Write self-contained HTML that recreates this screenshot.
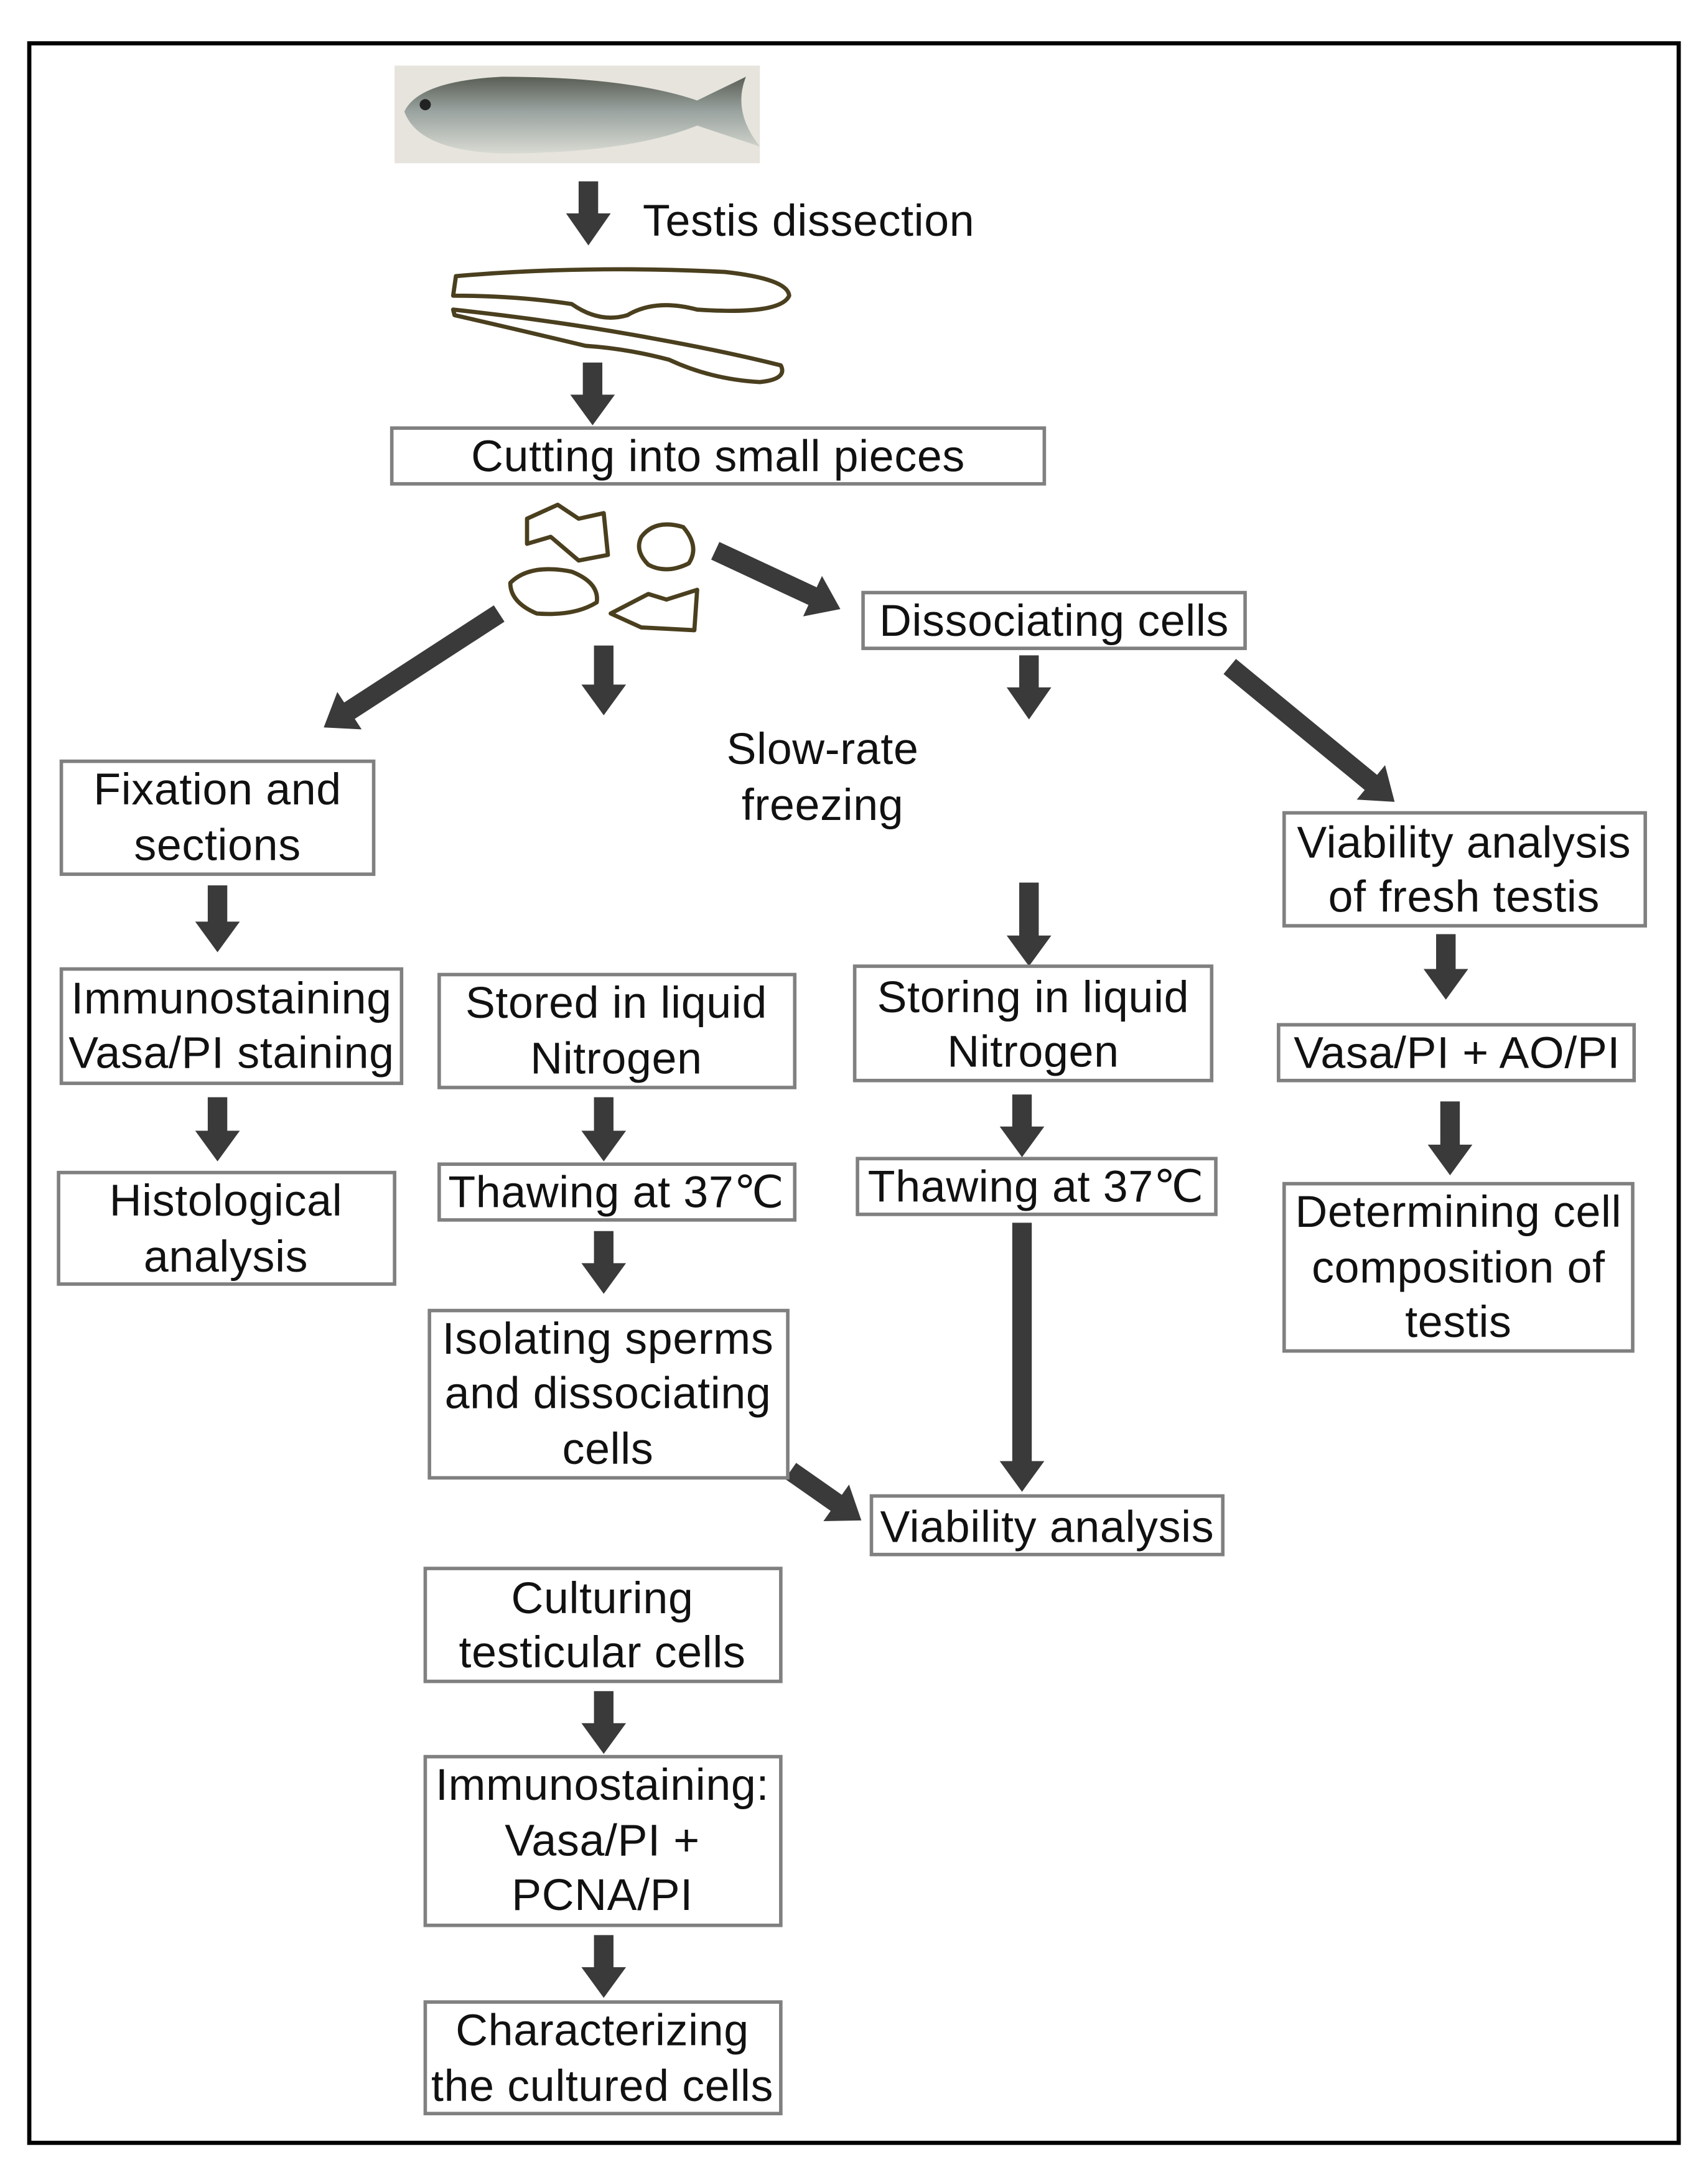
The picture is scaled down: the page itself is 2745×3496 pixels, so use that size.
<!DOCTYPE html>
<html><head><meta charset="utf-8"><style>
html,body{margin:0;padding:0;background:#fff;}
svg{display:block;}
text{font-family:"Liberation Sans",Arial,sans-serif;font-size:32px;letter-spacing:0.3px;fill:#111;text-anchor:middle;}
.b{fill:#fff;stroke:#808080;stroke-width:2.5;}
.a{fill:#3a3a3a;}
.o{fill:none;stroke:#4a3f1e;stroke-width:3;stroke-linejoin:round;}
</style></head><body>
<svg width="2745" height="3496" viewBox="0 0 1225 1560" xmlns="http://www.w3.org/2000/svg">
<defs>
<linearGradient id="fg" x1="0" y1="0" x2="0" y2="1">
<stop offset="0" stop-color="#5a5f55"/><stop offset="0.45" stop-color="#9aa3a0"/><stop offset="1" stop-color="#d8dad2"/>
</linearGradient>
</defs>
<rect x="0" y="0" width="1225" height="1560" fill="#fff"/>
<rect x="21" y="31" width="1183" height="1506" fill="none" stroke="#000" stroke-width="3"/>
<rect x="283" y="47" width="262" height="70" fill="#e6e4dc"/>
<path d="M290,80 Q300,58 360,55 Q450,55 500,72 L535,55 Q525,80 545,105 L500,90 Q450,110 360,110 Q300,108 290,80 Z" fill="url(#fg)"/>
<circle cx="305" cy="75" r="4" fill="#222"/>
<g class="a">
<polygon points="415,130 429,130 429,153 438,153 422,176 406,153 415,153"/>
<polygon points="418,260 432,260 432,283 441,283 425,305 409,283 418,283"/>
<polygon points="426,463 440,463 440,491 449,491 433,513 417,491 426,491"/>
<polygon points="731,470 745,470 745,493 754,493 738,516 722,493 731,493"/>
<polygon points="149,635 163,635 163,661 172,661 156,683 140,661 149,661"/>
<polygon points="149,787 163,787 163,811 172,811 156,833 140,811 149,811"/>
<polygon points="426,787 440,787 440,811 449,811 433,833 417,811 426,811"/>
<polygon points="426,883 440,883 440,906 449,906 433,928 417,906 426,906"/>
<polygon points="731,633 745,633 745,671 754,671 738,693 722,671 731,671"/>
<polygon points="726,785 740,785 740,808 749,808 733,830 717,808 726,808"/>
<polygon points="726,877 740,877 740,1048 749,1048 733,1070 717,1048 726,1048"/>
<polygon points="1030,670 1044,670 1044,695 1053,695 1037,717 1021,695 1030,695"/>
<polygon points="1033,790 1047,790 1047,821 1056,821 1040,843 1024,821 1033,821"/>
<polygon points="426,1213 440,1213 440,1236 449,1236 433,1258 417,1236 426,1236"/>
<polygon points="426,1388 440,1388 440,1411 449,1411 433,1433 417,1411 426,1411"/>
<g transform="translate(358,440) rotate(57)"><polygon points="-7,0 7,0 7,128 16,128 0,150 -16,128 -7,128"/></g>
<g transform="translate(513,395) rotate(-65)"><polygon points="-7,0 7,0 7,77 16,77 0,99 -16,77 -7,77"/></g>
<g transform="translate(882,478) rotate(-50.6)"><polygon points="-7,0 7,0 7,131 16,131 0,153 -16,131 -7,131"/></g>
<g transform="translate(567,1055) rotate(-55)"><polygon points="-7,0 7,0 7,40 16,40 0,62 -16,40 -7,40"/></g>
</g>
<text x="580" y="169" style="font-size:32px">Testis dissection</text>
<path class="o" d="M327,198 Q420,190 520,195 Q565,200 566,212 Q560,226 500,222 Q470,214 450,226 Q430,232 410,218 Q370,212 325,212 Z"/>
<path class="o" d="M325,222 Q400,230 470,243 Q520,252 560,262 Q565,272 545,274 Q510,272 480,258 Q450,250 420,248 Q370,236 326,226 Z"/>
<path class="o" d="M378,372 L400,362 L415,372 L433,368 L436,398 L415,402 L395,385 L378,390 Z"/>
<path class="o" d="M460,385 Q470,372 490,378 Q502,392 494,404 Q478,412 465,405 Q455,395 460,385 Z"/>
<path class="o" d="M366,418 Q380,404 410,410 Q430,418 428,432 Q412,442 385,440 Q366,432 366,418 Z"/>
<path class="o" d="M438,440 L465,426 L478,430 L500,423 L498,452 L460,450 Z"/>
<rect class="b" x="281" y="307" width="468" height="40"/><text x="515" y="338">Cutting into small pieces</text>
<rect class="b" x="619" y="425" width="274" height="40"/><text x="756" y="456">Dissociating cells</text>
<text x="590" y="548">Slow-rate</text><text x="590" y="588">freezing</text>
<rect class="b" x="44" y="546" width="224" height="81"/><text x="156" y="577">Fixation and</text><text x="156" y="617">sections</text>
<rect class="b" x="44" y="695" width="244" height="82"/><text x="166" y="727">Immunostaining</text><text x="166" y="766">Vasa/PI staining</text>
<rect class="b" x="42" y="841" width="241" height="80"/><text x="162" y="872">Histological</text><text x="162" y="912">analysis</text>
<rect class="b" x="315" y="699" width="255" height="81"/><text x="442" y="730">Stored in liquid</text><text x="442" y="770">Nitrogen</text>
<rect class="b" x="315" y="835" width="255" height="40"/><text x="442" y="866">Thawing at 37℃</text>
<rect class="b" x="308" y="940" width="257" height="120"/><text x="436" y="971">Isolating sperms</text><text x="436" y="1010">and dissociating</text><text x="436" y="1050">cells</text>
<rect class="b" x="625" y="1073" width="252" height="42"/><text x="751" y="1106">Viability analysis</text>
<rect class="b" x="613" y="693" width="256" height="82"/><text x="741" y="726">Storing in liquid</text><text x="741" y="765">Nitrogen</text>
<rect class="b" x="615" y="831" width="257" height="40"/><text x="743" y="862">Thawing at 37℃</text>
<rect class="b" x="921" y="583" width="259" height="81"/><text x="1050" y="615">Viability analysis</text><text x="1050" y="654">of fresh testis</text>
<rect class="b" x="917" y="735" width="255" height="40"/><text x="1045" y="766">Vasa/PI + AO/PI</text>
<rect class="b" x="921" y="849" width="250" height="120"/><text x="1046" y="880">Determining cell</text><text x="1046" y="920">composition of</text><text x="1046" y="959">testis</text>
<rect class="b" x="305" y="1125" width="255" height="81"/><text x="432" y="1157">Culturing</text><text x="432" y="1196">testicular cells</text>
<rect class="b" x="305" y="1260" width="255" height="121"/><text x="432" y="1291">Immunostaining:</text><text x="432" y="1331">Vasa/PI +</text><text x="432" y="1370">PCNA/PI</text>
<rect class="b" x="305" y="1436" width="255" height="80"/><text x="432" y="1467">Characterizing</text><text x="432" y="1507">the cultured cells</text>
</svg>
</body></html>
